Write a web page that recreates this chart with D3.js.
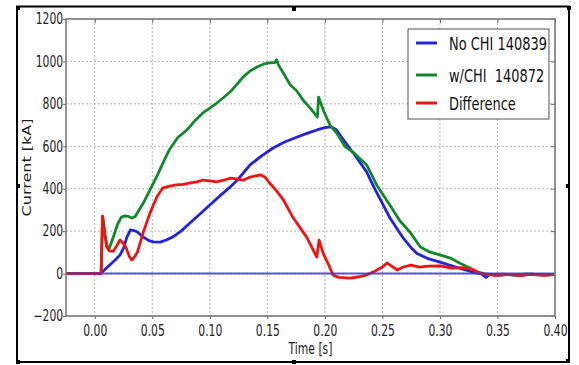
<!DOCTYPE html>
<html><head><meta charset="utf-8">
<script src="https://cdn.jsdelivr.net/npm/d3@7"></script>
<style>body{margin:0;background:#fff}text{font-family:"DejaVu Sans",sans-serif}</style>
</head><body>
<svg id="c" width="579" height="365"></svg>
<script>
// ---- data ----
const seriesNames = ["No CHI 140839", "w/CHI  140872", "Difference"];
const seriesColors = ["#2323dc", "#12882c", "#ee1414"];

const xTicks = [0.00, 0.05, 0.10, 0.15, 0.20, 0.25, 0.30, 0.35, 0.40];
const yTicks = [-200, 0, 200, 400, 600, 800, 1000, 1200];

const noChiT = [-0.025,0.0045,0.008,0.013,0.018,0.022,0.025,0.028,0.031,0.034,0.037,0.042,0.047,0.051,0.057,0.062,0.068,0.075,0.083,0.090,0.100,0.110,0.117,0.124,0.130,0.135,0.145,0.155,0.165,0.176,0.185,0.193,0.200,0.205,0.210,0.216,0.225,0.236,0.2435,0.2566,0.268,0.275,0.280,0.289,0.300,0.309,0.316,0.323,0.330,0.336,0.340,0.343,0.350,0.360,0.370,0.380,0.390,0.400];
const noChiV = [0,0,15,40,65,88,120,173,206,203,196,173,155,149,148,158,173,200,240,274,323,372,405,441,480,512,555,592,620,644,662,677,688,692,678,632,566,482,398,262,168,122,95,72,54,39,27,16,5,-2,-18,-4,-8,-4,-8,-3,-7,-4];

const wChiT = [-0.025,0.0055,0.0068,0.0085,0.0105,0.0125,0.016,0.020,0.023,0.026,0.029,0.032,0.035,0.038,0.042,0.048,0.055,0.060,0.065,0.072,0.080,0.087,0.094,0.100,0.106,0.112,0.118,0.124,0.129,0.135,0.141,0.147,0.152,0.1565,0.158,0.1595,0.165,0.170,0.1755,0.181,0.188,0.1935,0.1945,0.199,0.2045,0.210,0.2174,0.226,0.2363,0.245,0.2566,0.265,0.274,0.283,0.291,0.300,0.309,0.317,0.326,0.332,0.338,0.345,0.355,0.365,0.375,0.385,0.400];
const wChiV = [0,0,270,200,130,118,170,235,265,272,270,262,268,295,330,394,470,530,585,640,677,720,757,780,804,830,858,895,927,955,974,988,993,995,1008,985,935,889,862,818,775,738,832,765,700,665,600,565,512,418,322,250,195,125,102,88,73,50,26,8,0,-5,-3,-8,-2,-6,-4];

const diffT = [-0.025,0.0055,0.0068,0.0085,0.0105,0.0125,0.016,0.019,0.022,0.024,0.027,0.030,0.032,0.034,0.037,0.042,0.048,0.054,0.059,0.065,0.071,0.077,0.083,0.089,0.094,0.100,0.106,0.112,0.118,0.124,0.129,0.135,0.144,0.148,0.152,0.158,0.164,0.172,0.178,0.184,0.190,0.193,0.195,0.1985,0.203,0.207,0.212,0.222,0.230,0.236,0.243,0.250,0.254,0.258,0.263,0.268,0.275,0.282,0.290,0.300,0.310,0.320,0.328,0.335,0.340,0.350,0.360,0.370,0.380,0.390,0.400];
const diffV = [0,0,271,190,125,108,105,130,158,148,125,82,64,75,100,191,285,361,403,412,418,420,427,432,441,437,432,440,450,445,440,455,465,455,427,390,347,267,220,173,110,78,158,96,45,-7,-18,-21,-15,-7,10,31,50,35,17,31,40,30,35,36,26,28,20,2,-5,-8,-4,-10,-3,-8,-5];

const zeroT = [-0.025, 0.40];
const zeroV = [0, 0];

// ---- layout ----
const svg = d3.select("#c");
const L = 66, R = 555, T = 19, B = 316;
const SX = 0.72;
const x = d3.scaleLinear().domain([-0.025, 0.40]).range([L, R]);
const y = d3.scaleLinear().domain([-200, 1200]).range([B, T]);

svg.append("rect").attr("width", 579).attr("height", 365).attr("fill", "#fff");

// outer frame with handles
svg.append("rect").attr("x", 17).attr("y", 6.5).attr("width", 552).attr("height", 355.5)
  .attr("fill", "none").attr("stroke", "#000").attr("stroke-width", 2);
const handles = [[16,6],[292,7],[567,6],[16,184],[566,184],[16,360],[292,360],[566,359]];
svg.selectAll("rect.h").data(handles).enter().append("rect").attr("class","h")
  .attr("x", d => d[0]).attr("y", d => d[1]).attr("width", 4).attr("height", 4).attr("fill", "#000");

// grid
const grid = svg.append("g").attr("stroke", "#b4b4b4").attr("stroke-width", 1).attr("stroke-dasharray", "2,2");
grid.selectAll("line.gx").data(xTicks).enter().append("line")
  .attr("x1", d => x(d)).attr("x2", d => x(d)).attr("y1", T).attr("y2", B);
grid.selectAll("line.gy").data(yTicks).enter().append("line")
  .attr("x1", L).attr("x2", R).attr("y1", d => y(d)).attr("y2", d => y(d));

// clip
svg.append("clipPath").attr("id", "clip").append("rect")
  .attr("x", L).attr("y", T).attr("width", R - L).attr("height", B - T);

const line = d3.line().x(d => x(d[0])).y(d => y(d[1]));
const zip = (a, b) => a.map((t, i) => [t, b[i]]);
const plot = svg.append("g").attr("clip-path", "url(#clip)");
const series = [zip(noChiT, noChiV), zip(wChiT, wChiV), zip(diffT, diffV)];
series.forEach((s, i) => {
  plot.append("path").datum(s).attr("d", line).attr("fill", "none")
    .attr("stroke", seriesColors[i]).attr("stroke-width", 2.8)
    .attr("stroke-linejoin", "round");
});
plot.append("path").datum(zip(zeroT, zeroV)).attr("d", line).attr("fill", "none")
  .attr("stroke", "#3a3ad8").attr("stroke-opacity", 0.85).attr("stroke-width", 2);

// axes
const fmtX = d3.format(".2f");
const fmtY = d3.format("d");
const ax = svg.append("g").attr("transform", `translate(0,${B})`)
  .call(d3.axisBottom(x).tickValues(xTicks).tickFormat(fmtX).tickSizeInner(3).tickSizeOuter(0).tickPadding(6));
const ay = svg.append("g").attr("transform", `translate(${L},0)`)
  .call(d3.axisLeft(y).tickValues(yTicks).tickFormat(fmtY).tickSizeInner(3).tickSizeOuter(0).tickPadding(1));
const at = svg.append("g").attr("transform", `translate(0,${T})`)
  .call(d3.axisTop(x).tickValues(xTicks).tickFormat("").tickSizeInner(-4).tickSizeOuter(0));
const ar = svg.append("g").attr("transform", `translate(${R},0)`)
  .call(d3.axisRight(y).tickValues(yTicks).tickFormat("").tickSizeInner(-4).tickSizeOuter(0));
[ax, ay, at, ar].forEach(g => {
  g.select(".domain").remove();
  g.selectAll(".tick line").attr("stroke", "#666").attr("stroke-width", 1);
  g.selectAll("text").attr("font-family", "DejaVu Sans").attr("font-size", 15).attr("fill", "#222");
});
ax.selectAll(".tick text").attr("transform", `scale(${SX},1)`);
ay.selectAll(".tick text").attr("transform", `scale(${SX},1)`);

// plot frame
svg.append("rect").attr("x", L).attr("y", T).attr("width", R - L).attr("height", B - T)
  .attr("fill", "none").attr("stroke", "#7a7a7a").attr("stroke-width", 1.6);

// axis titles
svg.append("text").attr("transform", `translate(${(L + R) / 2},354) scale(${SX},1)`)
  .attr("text-anchor", "middle").attr("font-size", 15).attr("fill", "#222").text("Time [s]");
svg.append("text").attr("transform", `translate(31,${(T + B) / 2}) scale(${SX},1) rotate(-90)`)
  .attr("text-anchor", "middle").attr("font-size", 16).attr("fill", "#222").text("Current [kA]");

// legend
const lg = svg.append("g");
lg.append("rect").attr("x", 408).attr("y", 29).attr("width", 141).attr("height", 90)
  .attr("fill", "#fff").attr("stroke", "#555").attr("stroke-width", 1);
const rowY = [43, 75, 103];
seriesNames.forEach((n, i) => {
  lg.append("line").attr("x1", 416).attr("x2", 437).attr("y1", rowY[i]).attr("y2", rowY[i])
    .attr("stroke", seriesColors[i]).attr("stroke-width", 3);
  lg.append("text").attr("transform", `translate(449,${rowY[i] + 6.5}) scale(${SX},1)`)
    .attr("font-size", 18).attr("fill", "#111").style("white-space", "pre").text(n);
});
</script>
</body></html>
